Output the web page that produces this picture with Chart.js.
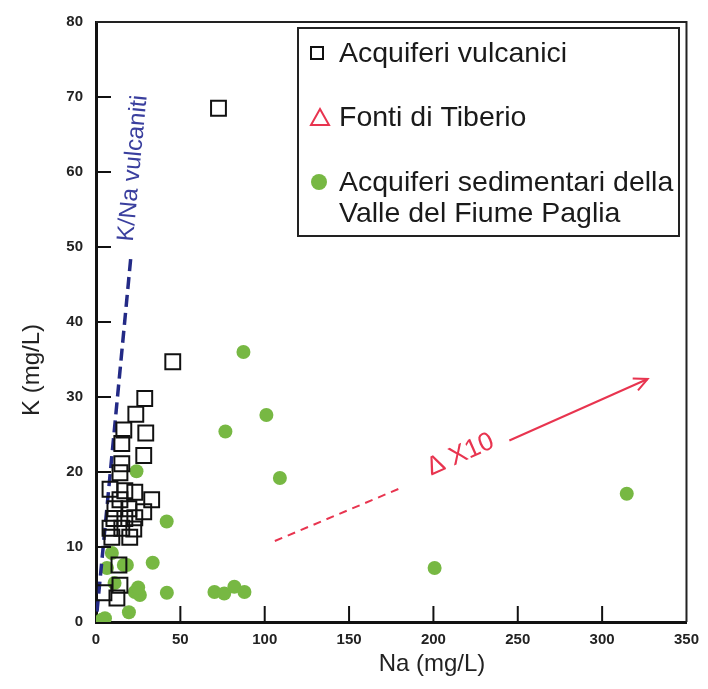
<!DOCTYPE html>
<html><head><meta charset="utf-8">
<script src="https://cdn.jsdelivr.net/npm/chart.js@4.4.0/dist/chart.umd.min.js"></script>
<style>html,body{margin:0;padding:0;background:#fff;}#wrap{width:708px;height:689px;}</style>
</head><body><div id="wrap"><canvas id="c" width="708" height="689"></canvas></div>
<script>
const xTicks = [0, 50, 100, 150, 200, 250, 300, 350];
const yTicks = [0, 10, 20, 30, 40, 50, 60, 70, 80];

const vulcaniciNa = [72.6, 45.5, 28.9, 23.6, 29.5, 16.5, 15.3, 28.3, 15.3, 14.2, 8.3, 17.1, 23.0, 33.0, 28.3, 14.2, 11.2, 19.5, 10.6, 17.1, 23.0, 8.3, 15.3, 22.4, 9.4, 20.0, 13.6, 14.2, 12.4, 4.7];
const vulcaniciK  = [68.5, 34.7, 29.8, 27.7, 25.2, 25.6, 23.8, 22.2, 21.1, 19.9, 17.7, 17.5, 17.3, 16.3, 14.7, 16.3, 15.1, 15.1, 13.8, 13.8, 13.9, 12.5, 12.5, 12.4, 11.3, 11.3, 7.6, 4.9, 3.2, 3.9];

const tiberioNa = [];
const tiberioK = [];

const sedimentariNa = [314.6, 200.7, 87.4, 101.0, 76.7, 109.0, 41.9, 33.6, 24.0, 9.4, 6.5, 16.5, 42.0, 23.0, 26.0, 19.5, 5.3, 3.5, 11.0, 70.2, 76.0, 82.0, 88.0, 18.3, 25.0];
const sedimentariK  = [17.1, 7.2, 36.0, 27.6, 25.4, 19.2, 13.4, 7.9, 20.1, 9.2, 7.2, 7.6, 3.9, 4.0, 3.6, 1.3, 0.5, 0.3, 5.2, 4.0, 3.8, 4.7, 4.0, 7.6, 4.6];

const knaLineNa = [0.6, 20.8];
const knaLineK = [1.4, 49.0];

const arrowDashedNa = [106, 181];
const arrowDashedK = [10.8, 17.9];
const arrowSolidNa = [245, 327];
const arrowSolidK = [24.2, 32.4];
const x10LabelNa = 216;
const x10LabelK = 22.3;
const knaLabelNa = 22.0;
const knaLabelK = 60.5;

const pts = (xs, ys) => xs.map((x, i) => ({x: x, y: ys[i]}));

const RED = '#e8344f';
const GREEN = '#77b843';
const BLUE = '#232a86';
const FONT = '"Liberation Sans", Arial, sans-serif';

const decorations = {
  id: 'decorations',
  afterDatasetsDraw(chart) {
    const ctx = chart.ctx;
    const a = chart.chartArea;
    const xs = chart.scales.x, ys = chart.scales.y;
    ctx.save();
    // frame top/right
    ctx.strokeStyle = '#222';
    ctx.lineWidth = 2;
    ctx.beginPath();
    ctx.moveTo(a.left, a.top); ctx.lineTo(a.right, a.top); ctx.lineTo(a.right, a.bottom);
    ctx.stroke();
    // inside tick marks
    ctx.lineWidth = 2;
    ctx.strokeStyle = '#111';
    yTicks.forEach(v => {
      if (v === 0 || v === 80) return;
      const py = ys.getPixelForValue(v);
      ctx.beginPath(); ctx.moveTo(a.left, py); ctx.lineTo(a.left + 15, py); ctx.stroke();
    });
    xTicks.forEach(v => {
      if (v === 0 || v === 350) return;
      const px = xs.getPixelForValue(v);
      ctx.beginPath(); ctx.moveTo(px, a.bottom); ctx.lineTo(px, a.bottom - 16); ctx.stroke();
    });
    // arrowhead
    const x1 = xs.getPixelForValue(arrowSolidNa[0]), y1 = ys.getPixelForValue(arrowSolidK[0]);
    const x2 = xs.getPixelForValue(arrowSolidNa[1]), y2 = ys.getPixelForValue(arrowSolidK[1]);
    const ang = Math.atan2(y2 - y1, x2 - x1);
    ctx.strokeStyle = RED; ctx.lineWidth = 2;
    ctx.beginPath();
    ctx.moveTo(x2 - 15 * Math.cos(ang - 0.45), y2 - 15 * Math.sin(ang - 0.45));
    ctx.lineTo(x2, y2);
    ctx.lineTo(x2 - 15 * Math.cos(ang + 0.45), y2 - 15 * Math.sin(ang + 0.45));
    ctx.stroke();
    // X10 label
    ctx.fillStyle = RED;
    ctx.font = '26px ' + FONT;
    ctx.textAlign = 'center'; ctx.textBaseline = 'middle';
    ctx.translate(xs.getPixelForValue(x10LabelNa), ys.getPixelForValue(x10LabelK));
    ctx.rotate(ang);
    ctx.fillText('\u0394 X10', 0, 0);
    ctx.restore();

    // K/Na label
    ctx.save();
    const bx1 = xs.getPixelForValue(knaLineNa[0]), by1 = ys.getPixelForValue(knaLineK[0]);
    const bx2 = xs.getPixelForValue(knaLineNa[1]), by2 = ys.getPixelForValue(knaLineK[1]);
    const bang = Math.atan2(by2 - by1, bx2 - bx1);
    ctx.fillStyle = '#3a3f9e';
    ctx.font = '24px ' + FONT;
    ctx.textAlign = 'center'; ctx.textBaseline = 'middle';
    ctx.translate(xs.getPixelForValue(knaLabelNa), ys.getPixelForValue(knaLabelK));
    ctx.rotate(bang);
    ctx.fillText('K/Na vulcaniti', 0, 0);
    ctx.restore();

    // axis titles
    ctx.save();
    ctx.fillStyle = '#222';
    ctx.font = '24px ' + FONT;
    ctx.textAlign = 'center'; ctx.textBaseline = 'middle';
    ctx.fillText('Na (mg/L)', 432, 664);
    ctx.translate(32, 370);
    ctx.rotate(-Math.PI / 2);
    ctx.fillText('K (mg/L)', 0, 0);
    ctx.restore();

    // legend
    ctx.save();
    ctx.strokeStyle = '#222'; ctx.lineWidth = 2;
    ctx.strokeRect(298, 28, 381, 208);
    ctx.font = '28.5px ' + FONT;
    ctx.fillStyle = '#1a1a1a';
    ctx.textAlign = 'left'; ctx.textBaseline = 'middle';
    // square
    ctx.lineWidth = 2; ctx.strokeStyle = '#111';
    ctx.strokeRect(311, 47, 12, 12);
    ctx.fillText('Acquiferi vulcanici', 339, 54);
    // triangle
    ctx.strokeStyle = RED; ctx.lineWidth = 2;
    ctx.beginPath(); ctx.moveTo(320, 109); ctx.lineTo(329, 125); ctx.lineTo(311, 125); ctx.closePath(); ctx.stroke();
    ctx.fillText('Fonti di Tiberio', 339, 118);
    // circle
    ctx.fillStyle = GREEN;
    ctx.beginPath(); ctx.arc(319, 182, 8, 0, Math.PI * 2); ctx.fill();
    ctx.fillStyle = '#1a1a1a';
    ctx.fillText('Acquiferi sedimentari della', 339, 183);
    ctx.fillText('Valle del Fiume Paglia', 339, 214);
    ctx.restore();
  }
};

new Chart(document.getElementById('c'), {
  type: 'scatter',
  data: {
    datasets: [
      {label: 'Acquiferi vulcanici', data: pts(vulcaniciNa, vulcaniciK), pointStyle: 'rect', pointRadius: 10.5, borderColor: '#111', backgroundColor: 'rgba(255,255,255,0)', borderWidth: 2, order: 1},
      {label: 'K/Na vulcaniti', data: pts(knaLineNa, knaLineK), showLine: true, pointRadius: 0, borderColor: BLUE, borderWidth: 3.5, borderDash: [12, 6], order: 2},
      {label: 'Fonti di Tiberio', data: pts(tiberioNa, tiberioK), pointStyle: 'triangle', pointRadius: 8, borderColor: RED, backgroundColor: 'rgba(255,255,255,0)', borderWidth: 2, order: 3},
      {label: 'Acquiferi sedimentari della Valle del Fiume Paglia', data: pts(sedimentariNa, sedimentariK), pointStyle: 'circle', pointRadius: 7, borderWidth: 0, backgroundColor: GREEN, borderColor: GREEN, order: 4},
      {label: 'x10 dashed', data: pts(arrowDashedNa, arrowDashedK), showLine: true, pointRadius: 0, borderColor: RED, borderWidth: 2, borderDash: [8, 6], order: 5},
      {label: 'x10 solid', data: pts(arrowSolidNa, arrowSolidK), showLine: true, pointRadius: 0, borderColor: RED, borderWidth: 2, order: 5}
    ]
  },
  options: {
    responsive: false,
    animation: false,
    layout: {padding: {left: 0, right: 20, top: 18, bottom: 0}},
    plugins: {legend: {display: false}, tooltip: {enabled: false}},
    scales: {
      x: {
        type: 'linear', min: 0, max: 350,
        afterBuildTicks: s => { s.ticks = xTicks.map(v => ({value: v})); },
        afterFit: s => { s.height = 67; },
        grid: {display: false, drawTicks: false},
        border: {display: true, color: '#111', width: 3},
        ticks: {padding: 9, color: '#222', font: {family: FONT, size: 15, weight: 'bold'}}
      },
      y: {
        type: 'linear', min: 0, max: 80,
        afterBuildTicks: s => { s.ticks = yTicks.map(v => ({value: v})); },
        afterFit: s => { s.width = 96; },
        grid: {display: false, drawTicks: false},
        border: {display: true, color: '#111', width: 3},
        ticks: {padding: 13, color: '#222', font: {family: FONT, size: 15, weight: 'bold'}}
      }
    }
  },
  plugins: [decorations]
});
</script>
</body></html>
